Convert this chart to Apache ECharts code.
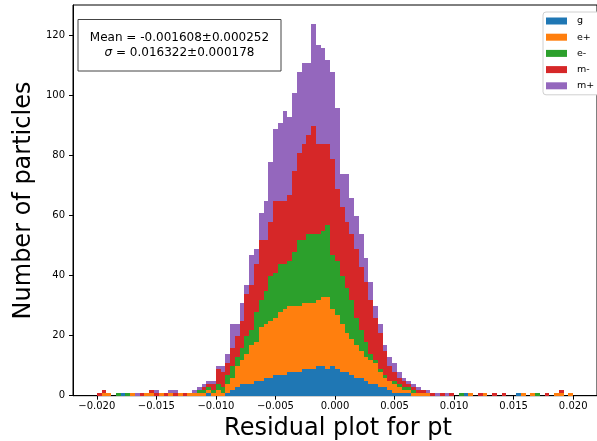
<!DOCTYPE html>
<html><head><meta charset="utf-8">
<script src="https://cdn.jsdelivr.net/npm/echarts@6/dist/echarts.min.js"></script>
<style>html,body{margin:0;padding:0;background:#fff}#c{width:597px;height:441px}</style>
</head><body><div id="c"></div>
<script>
// ---- data ----
const speciesNames = ['g', 'e+', 'e-', 'm-', 'm+'];
const speciesColors = ['#1f77b4', '#ff7f0e', '#2ca02c', '#d62728', '#9467bd'];
const binStart = -0.02, binWidth = 0.0004;   // 100 bins over [-0.02, 0.02]
const countsG = [0,0,0,0,0,1,0,0,0,0, 0,0,0,0,0,0,0,0,0,0, 0,0,0,1,0,0,0,1,2,3, 4,4,4,5,5,6,6,7,7,7,
  8,8,8,9,9,9,10,10,9,10, 9,8,8,7,6,6,5,4,4,3, 3,2,1,1,1,1,0,0,0,0, 0,0,0,0,0,0,0,1,0,0,
  0,0,0,0,0,0,0,0,1,0, 0,0,0,0,0,0,0,0,0,0];
const countsEplus = [0,1,1,0,0,0,0,1,0,0, 1,1,0,1,0,1,0,1,0,1, 1,1,1,1,1,2,1,3,4,7, 8,10,13,13,18,18,19,19,21,22,
  22,22,22,22,22,22,22,23,24,19, 18,16,13,12,11,9,8,8,7,5, 3,3,3,2,1,1,1,1,1,1, 0,0,0,0,0,0,0,0,1,0,
  0,1,0,0,0,0,0,0,0,1, 0,1,0,0,0,0,1,1,0,1];
const countsEminus = [0,0,0,0,1,0,1,0,0,0, 0,0,0,0,0,0,0,0,0,0, 0,1,1,1,1,2,2,3,4,3, 4,6,5,10,9,11,15,15,16,15,
  15,18,22,21,23,23,22,22,24,18, 18,16,15,13,9,7,5,2,1,1, 1,0,1,1,1,1,1,0,0,0, 0,0,0,0,0,0,1,0,0,0,
  0,0,0,0,0,0,0,0,0,0, 0,0,1,0,0,0,0,0,0,0];
const countsMminus = [1,1,0,0,0,0,0,0,0,1, 0,1,1,0,1,0,1,0,1,0, 0,0,1,1,2,5,5,4,6,7, 9,14,15,16,20,17,18,24,21,21,
  22,27,29,32,33,36,30,29,27,32, 24,23,22,22,23,21,20,18,14,12, 8,5,3,2,2,1,1,1,1,0, 1,0,1,0,1,0,0,0,0,0,
  1,0,0,1,0,1,0,0,0,0, 0,0,0,0,1,0,0,1,0,0];
const countsMplus = [0,0,0,0,0,0,0,0,1,0, 0,0,1,0,0,1,1,0,0,0, 1,1,1,1,1,1,2,3,8,4, 6,3,10,5,9,13,20,24,26,30,
  26,26,27,27,24,34,33,32,28,29, 27,11,16,12,11,11,8,6,4,3, 2,3,3,2,1,1,1,1,0,1, 0,1,0,1,0,0,0,0,0,0,
  0,0,0,0,0,0,0,0,0,0, 0,0,0,0,0,0,0,0,0,0];
const xTickValues = [-0.02, -0.015, -0.01, -0.005, 0, 0.005, 0.01, 0.015, 0.02];
const yTickValues = [0, 20, 40, 60, 80, 100, 120];
const meanText = 'Mean = -0.001608±0.000252';
const sigmaSymbol = 'σ';
const sigmaText = ' = 0.016322±0.000178';
const xTitle = 'Residual plot for pt';
const yTitle = 'Number of particles';

// ---- chart ----
const allCounts = [countsG, countsEplus, countsEminus, countsMminus, countsMplus];
const base = new Array(countsG.length).fill(0);
function renderItem(params, api) {
  const lo = api.value(2), hi = api.value(3);
  if (!(hi > lo)) return null;
  const p0 = api.coord([api.value(0), hi]);
  const p1 = api.coord([api.value(1), lo]);
  const x0 = Math.round(p0[0]), x1 = Math.round(p1[0]);
  const y0 = Math.round(p0[1]), y1 = Math.round(p1[1]);
  return {type: 'rect', shape: {x: x0, y: y0, width: x1 - x0, height: y1 - y0},
    style: {fill: api.visual('color')}};
}
const series = allCounts.map(function (counts, s) {
  const data = counts.map(function (c, i) {
    const lo = base[i]; base[i] += c;
    return [binStart + i * binWidth, binStart + (i + 1) * binWidth, lo, lo + c];
  });
  return {type: 'custom', name: speciesNames[s], renderItem: renderItem, data: data,
    itemStyle: {color: speciesColors[s]}, encode: {x: [0, 1], y: [2, 3]}, z: 2, silent: true};
});
function fmtX(v) { return (v < 0 ? '\u2212' : '') + Math.abs(v).toFixed(3); }
const font = '"DejaVu Sans", sans-serif';
const chart = echarts.init(document.getElementById('c'));
chart.setOption({
  animation: false,
  backgroundColor: '#fff',
  grid: {left: 73, right: -7, top: 5, bottom: 45.3, show: true, borderColor: '#000', borderWidth: 1},
  xAxis: {type: 'value', min: -0.022, max: 0.022,
    axisLine: {show: true, onZero: false, lineStyle: {color: '#000', width: 1}},
    axisTick: {show: true, customValues: xTickValues, length: 4, lineStyle: {color: '#000'}},
    axisLabel: {customValues: xTickValues, formatter: fmtX, fontSize: 10, color: '#000', margin: 6, fontFamily: font},
    splitLine: {show: false}},
  yAxis: {type: 'value', min: 0, max: 130.2,
    axisLine: {show: true, onZero: false, lineStyle: {color: '#000', width: 1}},
    axisTick: {show: true, customValues: yTickValues, length: 4, lineStyle: {color: '#000'}},
    axisLabel: {customValues: yTickValues, fontSize: 10, color: '#000', margin: 8, fontFamily: font},
    splitLine: {show: false}},
  legend: {orient: 'vertical', left: 543, top: 12, data: speciesNames, icon: 'rect',
    itemWidth: 21, itemHeight: 7, itemGap: 6.2, padding: [4, 40, 4, 3],
    borderColor: '#d0d0d0', borderWidth: 1, borderRadius: 3, backgroundColor: '#fff',
    textStyle: {fontSize: 9.5, color: '#000', fontFamily: font, lineHeight: 10, padding: [0, 0, 0, 5]}},
  graphic: [
    {type: 'rect', shape: {x: 78, y: 19.5, width: 203, height: 51.5}, style: {fill: '#fff', stroke: '#444', lineWidth: 1}, z: 10},
    {type: 'text', x: 179.5, y: 37.5, z: 11, style: {text: meanText, fontSize: 12, fontFamily: font, fill: '#000', align: 'center', verticalAlign: 'middle'}},
    {type: 'text', x: 179.5, y: 52.5, z: 11, style: {text: '{i|' + sigmaSymbol + '}{n|' + sigmaText + '}', align: 'center', verticalAlign: 'middle',
      rich: {i: {fontSize: 12, fontFamily: font, fontStyle: 'italic', fill: '#000'}, n: {fontSize: 12, fontFamily: font, fill: '#000'}}}},
    {type: 'text', x: 338, y: 428.5, style: {text: xTitle, fontSize: 24, fontFamily: font, fill: '#000', align: 'center', verticalAlign: 'middle'}},
    {type: 'text', x: 23.5, y: 200.5, rotation: Math.PI / 2, style: {text: yTitle, fontSize: 24, fontFamily: font, fill: '#000', align: 'center', verticalAlign: 'middle'}}
  ],
  series: series
});
</script></body></html>
